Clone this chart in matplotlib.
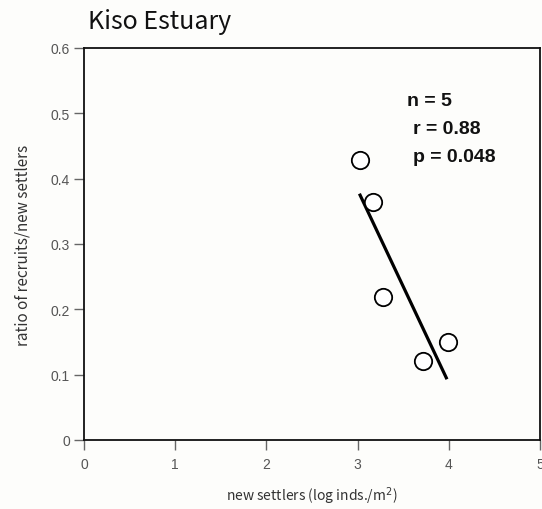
import matplotlib
matplotlib.use("Agg")
import matplotlib.pyplot as plt

# New settlers (log inds./m^2) vs ratio of recruits to new settlers
settlers = [3.03, 3.17, 3.28, 3.99, 3.72]
ratio = [0.428, 0.365, 0.219, 0.150, 0.121]

# Regression line end points
fit_x = [3.02, 3.98]
fit_y = [0.377, 0.093]

stats_lines = ["n = 5", "r = 0.88", "p = 0.048"]

xticks = [0, 1, 2, 3, 4, 5]
yticks = [0, 0.1, 0.2, 0.3, 0.4, 0.5, 0.6]
yticklabels = ["0", "0.1", "0.2", "0.3", "0.4", "0.5", "0.6"]

fig = plt.figure(figsize=(5.42, 5.10), dpi=100)
fig.patch.set_facecolor("#fdfdfb")
ax = fig.add_axes([84 / 542, 1 - 441 / 510, 456 / 542, 392 / 510])
ax.set_facecolor("#fdfdfb")

ax.plot(fit_x, fit_y, color="black", lw=2.3, solid_capstyle="butt", zorder=2)
ax.plot(settlers, ratio, linestyle="none", marker="o", markersize=12.5,
        markerfacecolor="white", markeredgecolor="black", markeredgewidth=1.3, zorder=3)

ax.set_xlim(0, 5)
ax.set_ylim(0, 0.6)
ax.set_xticks(xticks)
ax.set_xticklabels([str(t) for t in xticks])
ax.set_yticks(yticks)
ax.set_yticklabels(yticklabels)

for side in ["left", "bottom", "right", "top"]:
    ax.spines[side].set_linewidth(1.3)
    ax.spines[side].set_color("#111111")

ax.tick_params(axis="both", direction="out", length=7, width=1.0,
               color="#666666", labelcolor="#555555", labelsize=10)
ax.tick_params(axis="x", pad=5)
ax.tick_params(axis="y", pad=3)
for lab in ax.get_xticklabels() + ax.get_yticklabels():
    lab.set_family("Liberation Sans")

ax.set_xlabel("new settlers (log inds./m$^{2}$)", fontsize=10, color="#333333",
              family="Noto Sans CJK JP", labelpad=10)
ax.set_ylabel("ratio of recruits/new settlers", fontsize=11, color="#333333",
              family="Noto Sans CJK JP", labelpad=14)

fig.text(88 / 542, 1 - 22 / 510, "Kiso Estuary", fontsize=18, color="#111111",
         family="Noto Sans CJK JP", ha="left", va="center")

offsets = [(407, 102), (413, 130), (413, 158)]
for (px, py), s in zip(offsets, stats_lines):
    fig.text(px / 542, 1 - py / 510, s, fontsize=14, fontweight="bold",
             family="Liberation Sans", color="#111111", ha="left", va="center")

fig.savefig("out.png", dpi=100, facecolor=fig.get_facecolor())
